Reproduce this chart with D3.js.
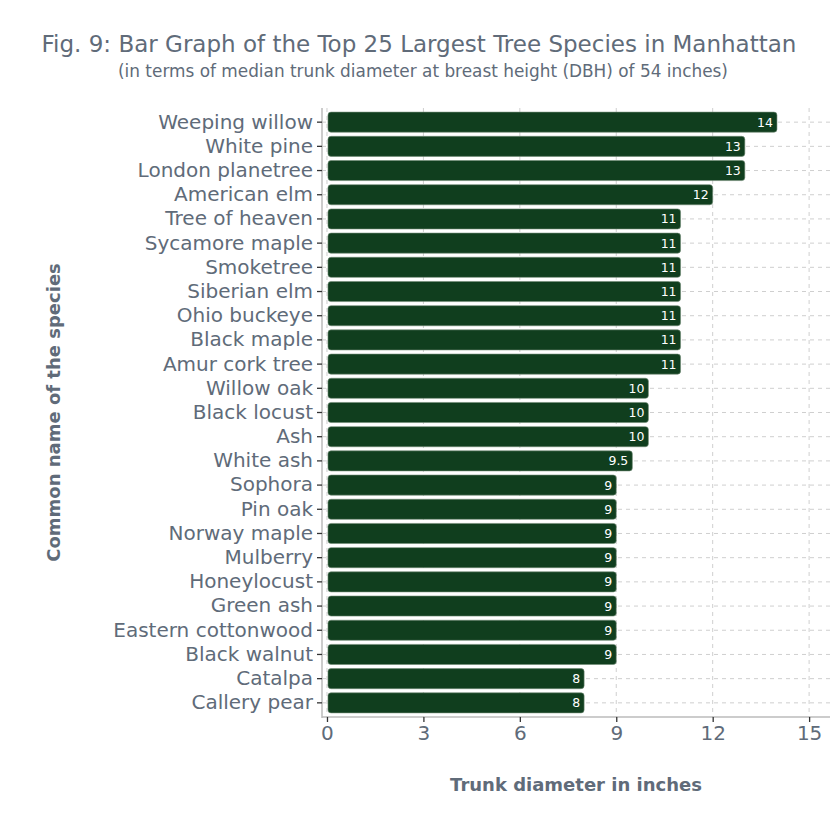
<!DOCTYPE html>
<html>
<head>
<meta charset="utf-8">
<script src="https://cdn.jsdelivr.net/npm/d3@7"></script>
<style>
  body { margin: 0; background: #fff; }
  text { font-family: "DejaVu Sans", sans-serif; }
</style>
</head>
<body>
<script>
// species names and median DBH (inches), top to bottom
var species = ["Weeping willow", "White pine", "London planetree", "American elm",
  "Tree of heaven", "Sycamore maple", "Smoketree", "Siberian elm", "Ohio buckeye",
  "Black maple", "Amur cork tree", "Willow oak", "Black locust", "Ash", "White ash",
  "Sophora", "Pin oak", "Norway maple", "Mulberry", "Honeylocust", "Green ash",
  "Eastern cottonwood", "Black walnut", "Catalpa", "Callery pear"];
var diameters = [14, 13, 13, 12, 11, 11, 11, 11, 11, 11, 11, 10, 10, 10, 9.5,
  9, 9, 9, 9, 9, 9, 9, 9, 8, 8];
var xTicks = [0, 3, 6, 9, 12, 15];

var data = species.map(function(d, i) { return {name: d, value: diameters[i]}; });

var W = 840, H = 840;
var pLeft = 322, pRight = 830, pTop = 108, pBottom = 717;
var textCol = "#606b79";

var svg = d3.select("body").append("svg")
  .attr("width", W).attr("height", H);

var x = d3.scaleLinear()
  .domain([-0.155, 15.65])
  .range([pLeft, pRight]);

var y = d3.scaleBand()
  .domain(species)
  .range([pTop, pBottom])
  .paddingInner(0.17)
  .paddingOuter(0.17);

// grid lines
svg.append("g").selectAll("line")
  .data(xTicks).enter().append("line")
  .attr("x1", function(d) { return x(d); })
  .attr("x2", function(d) { return x(d); })
  .attr("y1", pTop).attr("y2", pBottom)
  .attr("stroke", "#cfcfcf").attr("stroke-dasharray", "4,4");

svg.append("g").selectAll("line")
  .data(species).enter().append("line")
  .attr("x1", pLeft).attr("x2", pRight)
  .attr("y1", function(d) { return y(d) + y.bandwidth() / 2; })
  .attr("y2", function(d) { return y(d) + y.bandwidth() / 2; })
  .attr("stroke", "#cfcfcf").attr("stroke-dasharray", "4,4");

// bars
svg.append("g").selectAll("rect")
  .data(data).enter().append("rect")
  .attr("x", x(0) + 1)
  .attr("y", function(d) { return y(d.name); })
  .attr("width", function(d) { return x(d.value) - x(0) - 1; })
  .attr("height", y.bandwidth())
  .attr("rx", 3).attr("ry", 3)
  .attr("fill", "#103e1e")
  .attr("stroke", "#6f8a74").attr("stroke-width", 0.6);

// value labels
svg.append("g").selectAll("text")
  .data(data).enter().append("text")
  .attr("x", function(d) { return x(d.value) - 4; })
  .attr("y", function(d) { return y(d.name) + y.bandwidth() / 2 + 4.5; })
  .attr("text-anchor", "end")
  .attr("fill", "#ffffff")
  .style("font-size", "12.5px")
  .text(function(d) { return d.value; });

// axes
var yAxis = svg.append("g")
  .attr("transform", "translate(" + pLeft + ",0)")
  .call(d3.axisLeft(y).tickSize(5).tickPadding(4));
yAxis.select(".domain").attr("stroke", "#bbbbbb").attr("stroke-width", 1.5)
  .attr("d", "M0," + pTop + "V" + (pBottom + 1));
yAxis.selectAll(".tick line").attr("stroke", "#333").attr("stroke-width", 1.3);
yAxis.selectAll(".tick text").attr("fill", textCol).style("font-size", "20px");

var xAxis = svg.append("g")
  .attr("transform", "translate(0," + pBottom + ")")
  .call(d3.axisBottom(x).tickValues(xTicks).tickSize(5).tickPadding(4));
xAxis.select(".domain").attr("stroke", "#bbbbbb").attr("stroke-width", 1.5)
  .attr("d", "M" + pLeft + ",0H" + pRight);
xAxis.selectAll(".tick line").attr("stroke", "#333").attr("stroke-width", 1.3);
xAxis.selectAll(".tick text").attr("fill", textCol).style("font-size", "20px");

// titles
svg.append("text")
  .attr("x", 419).attr("y", 52)
  .attr("text-anchor", "middle")
  .attr("fill", textCol)
  .style("font-size", "23px")
  .text("Fig. 9: Bar Graph of the Top 25 Largest Tree Species in Manhattan");

svg.append("text")
  .attr("x", 423).attr("y", 77)
  .attr("text-anchor", "middle")
  .attr("fill", textCol)
  .style("font-size", "16.9px")
  .text("(in terms of median trunk diameter at breast height (DBH) of 54 inches)");

svg.append("text")
  .attr("x", (pLeft + pRight) / 2).attr("y", 791)
  .attr("text-anchor", "middle")
  .attr("fill", textCol)
  .style("font-size", "18px").style("font-weight", "bold")
  .text("Trunk diameter in inches");

svg.append("text")
  .attr("transform", "translate(60," + ((pTop + pBottom) / 2) + ") rotate(-90)")
  .attr("text-anchor", "middle")
  .attr("fill", textCol)
  .style("font-size", "18px").style("font-weight", "bold")
  .text("Common name of the species");
</script>
</body>
</html>
